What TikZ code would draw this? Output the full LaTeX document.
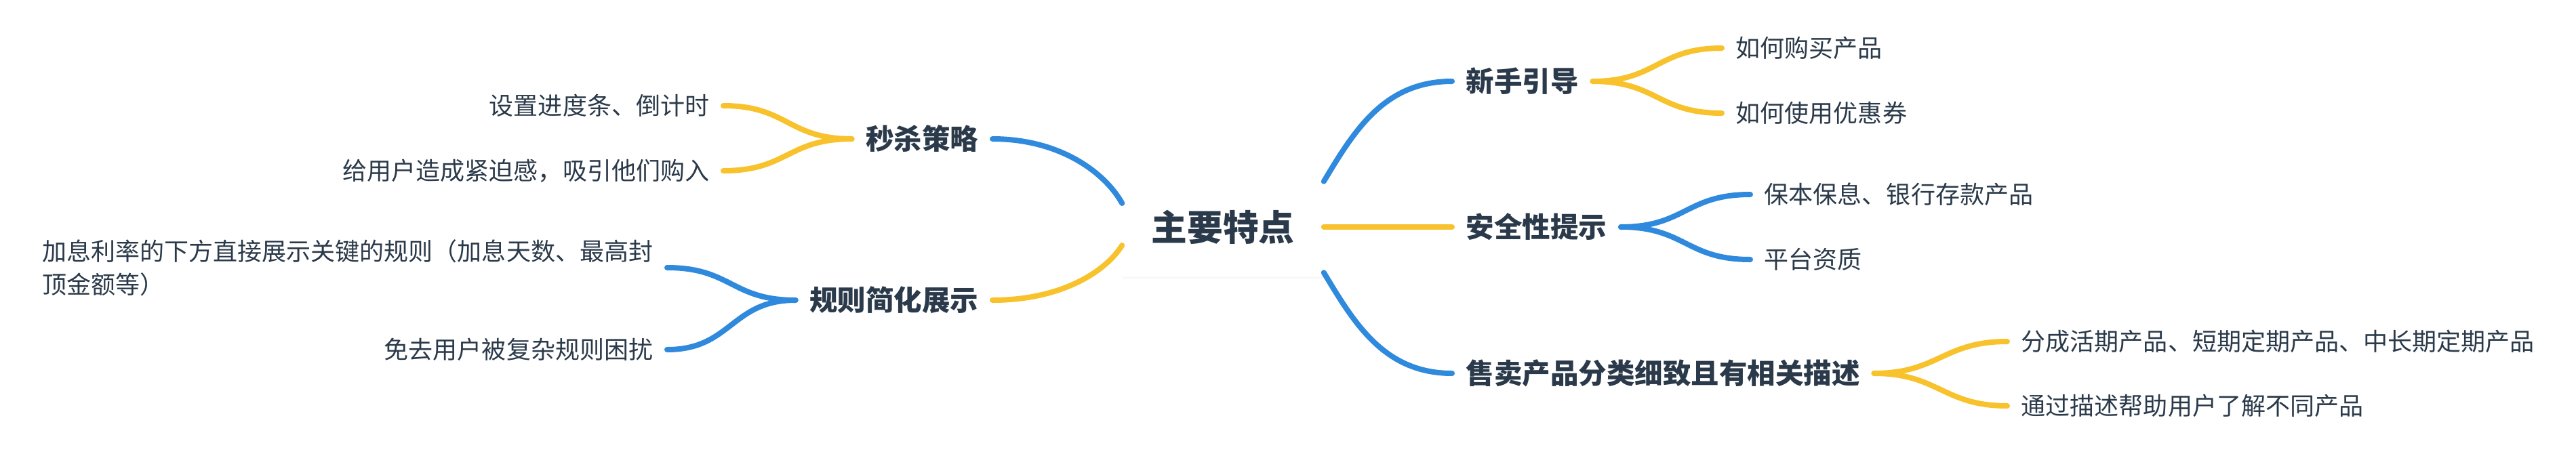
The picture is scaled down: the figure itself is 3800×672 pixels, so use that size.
\documentclass[tikz,border=0pt]{standalone}
\usepackage{fontspec}
\setmainfont{Noto Sans CJK SC}
\usepackage{tikz}
\usetikzlibrary{shadows}

\definecolor{mapblue}{RGB}{47,137,220}
\definecolor{mapyellow}{RGB}{248,194,44}
\definecolor{maptext}{RGB}{43,58,74}

\begin{document}
\begin{tikzpicture}[x=0.01cm, y=-0.01cm,
    root/.style={fill=white, text=maptext, font=\fontsize{15}{18}\selectfont\bfseries,
        minimum width=2.96cm, minimum height=1.45cm,
        drop shadow={shadow xshift=0cm, shadow yshift=-0.04cm, opacity=0.05}},
    topic/.style={text=maptext, font=\fontsize{11.8}{14}\selectfont\bfseries, inner xsep=0.2cm},
    leaf/.style={text=maptext, font=\fontsize{10.25}{14}\selectfont, inner xsep=0.2cm},
    bluelink/.style={draw=mapblue, line width=0.8mm, line cap=round},
    yellowlink/.style={draw=mapyellow, line width=0.8mm, line cap=round}]
    \useasboundingbox (0,0) rectangle (3800,672);

    % Central topic
    \node[root] (root) at (1804,335) {主要特点};

    % Main branches
    \node[topic, anchor=west] (guide) at (2142,120) {新手引导};
    \node[topic, anchor=west] (safe) at (2142,335) {安全性提示};
    \node[topic, anchor=west] (sale) at (2142,551) {售卖产品分类细致且有相关描述};
    \node[topic, anchor=east] (flash) at (1464,205) {秒杀策略};
    \node[topic, anchor=east] (rule) at (1464,443) {规则简化展示};

    % Leaves
    \node[leaf, anchor=west] (buy) at (2540,71) {如何购买产品};
    \node[leaf, anchor=west] (coupon) at (2540,167) {如何使用优惠券};
    \node[leaf, anchor=west] (keep) at (2582,287) {保本保息、银行存款产品};
    \node[leaf, anchor=west] (license) at (2582,383) {平台资质};
    \node[leaf, anchor=west] (kinds) at (2961,504) {分成活期产品、短期定期产品、中长期定期产品};
    \node[leaf, anchor=west] (desc) at (2961,599) {通过描述帮助用户了解不同产品};
    \node[leaf, anchor=east] (bar) at (1067,156) {设置进度条、倒计时};
    \node[leaf, anchor=east] (urge) at (1067,252) {给用户造成紧迫感，吸引他们购入};
    \node[leaf, anchor=east, align=left] (show) at (984,395) {加息利率的下方直接展示关键的规则（加息天数、最高封\\顶金额等）};
    \node[leaf, anchor=east] (avoid) at (984,516) {免去用户被复杂规则困扰};

    % Links from the centre
    \draw[bluelink] ([yshift=-0.06cm]root.north east) .. controls +(45,-75) and +(-100,0) .. (guide.west);
    \draw[yellowlink] (root.east) -- (safe.west);
    \draw[bluelink] ([yshift=0.06cm]root.south east) .. controls +(45,75) and +(-100,0) .. (sale.west);
    \draw[bluelink] ([yshift=0.35cm]root.west) .. controls +(-25,-45) and +(100,0) .. (flash.east);
    \draw[yellowlink] ([yshift=-0.27cm]root.west) .. controls +(-25,40) and +(100,0) .. (rule.east);

    % Links to the leaves
    \draw[yellowlink] (guide.east) .. controls +(95,0) and +(-95,0) .. (buy.west);
    \draw[yellowlink] (guide.east) .. controls +(95,0) and +(-95,0) .. (coupon.west);
    \draw[bluelink] (safe.east) .. controls +(95,0) and +(-95,0) .. (keep.west);
    \draw[bluelink] (safe.east) .. controls +(95,0) and +(-95,0) .. (license.west);
    \draw[yellowlink] (sale.east) .. controls +(95,0) and +(-95,0) .. (kinds.west);
    \draw[yellowlink] (sale.east) .. controls +(95,0) and +(-95,0) .. (desc.west);
    \draw[yellowlink] (flash.west) .. controls +(-95,0) and +(95,0) .. (bar.east);
    \draw[yellowlink] (flash.west) .. controls +(-95,0) and +(95,0) .. (urge.east);
    \draw[bluelink] (rule.west) .. controls +(-95,0) and +(95,0) .. (show.east);
    \draw[bluelink] (rule.west) .. controls +(-95,0) and +(95,0) .. (avoid.east);
\end{tikzpicture}
\end{document}
